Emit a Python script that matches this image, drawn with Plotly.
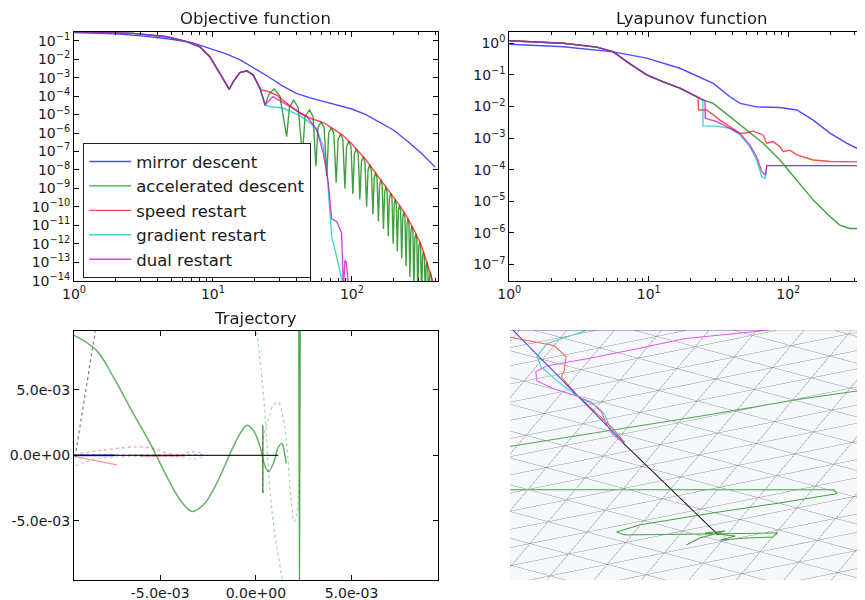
import math
import plotly.graph_objects as go

# ---------------- Objective function data (t, log10 value) ----------------
mirror_t = [1, 2, 3.16, 5.01, 7.08, 10, 12.6, 15.8, 20, 25.1, 31.6, 39.8, 50.1, 63.1, 79.4, 100, 126, 158, 200, 251, 316, 398]
mirror_obj_exp = [-0.55, -0.62, -0.75, -0.92, -1.1, -1.45, -1.72, -2.05, -2.5, -2.95, -3.45, -3.85, -4.1, -4.3, -4.5, -4.7, -5.0, -5.4, -5.85, -6.45, -7.1, -7.85]

common_t = [1, 1.54, 2.67, 4.65, 6.47, 8.05, 9.5, 11.2, 12.5, 13.1, 14.0, 15.6, 17.5, 19.5, 21.8]
common_obj_exp = [-0.51, -0.55, -0.6, -0.78, -1.05, -1.33, -1.87, -2.77, -3.4, -3.63, -3.22, -2.73, -2.63, -2.86, -3.58]

accel_t = [23.7, 25.3, 27.5, 30.3, 33.9, 35.5, 38, 41, 44, 46, 49.5, 52.5, 55, 57, 60, 63, 66, 68, 71, 74, 77,
           79.5, 83, 86, 89, 91.5, 95, 98.5, 101.5, 104, 107.5, 111, 114, 117, 120.5, 124, 127.5,
           130.5, 134, 138, 141.5, 144.5, 148, 151.5, 155, 158, 161.5, 165, 168.5, 172, 175.5, 179, 182.5,
           186, 190, 194, 198, 201.5, 205, 208.5, 212, 216, 220, 224, 228, 232, 236, 240.5, 245,
           249, 253, 257, 261, 265.5, 270, 274.5, 279, 283.5, 288, 293, 298, 302.5, 307, 312, 317,
           322, 327, 332, 337, 341.5, 346, 351, 356, 361.5, 367, 372.5, 378, 384, 390, 396, 402, 408, 414, 420]
accel_obj_exp = [-4.48, -3.9, -3.6, -4.0, -6.2, -4.6, -4.22, -4.6, -7.2, -5.1, -4.75, -5.1, -7.8, -5.7, -5.4, -5.7, -8.3,
                 -6.0, -5.7, -6.0, -8.7, -6.35, -6.05, -6.35, -9.0, -6.75, -6.45, -6.75, -9.3, -7.15, -6.85, -7.15, -9.6,
                 -7.58, -7.28, -7.58, -10.0, -8.02, -7.72, -8.02, -10.4, -8.45, -8.15, -8.45, -10.8, -8.83, -8.53, -8.83, -11.2,
                 -9.2, -8.9, -9.2, -11.6, -9.54, -9.24, -9.54, -12.0, -9.88, -9.58, -9.88, -12.4, -10.21, -9.91, -10.21, -12.8,
                 -10.57, -10.27, -10.57, -13.2, -10.94, -10.64, -10.94, -13.8, -11.33, -11.03, -11.33, -14.5,
                 -11.74, -11.44, -11.74, -15, -12.19, -11.89, -12.19, -15, -12.73, -12.43, -12.73, -15,
                 -13.26, -12.96, -13.26, -15, -13.83, -13.53, -13.83, -15, -14.5, -14.2, -14.5, -15, -15, -14.8, -15]

speed_t = [22.4, 25.1, 28.8, 35.5, 42.7, 50.1, 57.5, 63.1, 74.1, 85.1, 100, 112, 126, 141, 158, 178, 200, 224, 251, 282, 316, 355, 389, 420]
speed_obj_exp = [-3.67, -3.75, -3.95, -4.5, -4.95, -5.2, -5.35, -5.45, -5.8, -6.1, -6.6, -7.0, -7.45, -7.95, -8.45, -8.95, -9.45, -10.0, -10.6, -11.3, -12.1, -13.2, -14.2, -15]

grad_t = [23.7, 25, 32, 42, 50, 56, 62, 66, 68, 70, 71.5, 77, 84, 88]
grad_obj_exp = [-4.48, -4.55, -4.66, -5.05, -5.45, -5.85, -6.7, -8.0, -9.2, -10.6, -11.6, -12.6, -13.7, -14.5]

dual_t = [23.7, 27, 35.8, 47.2, 55.7, 62.2, 67.6, 70.3, 71.4, 77.6, 84.1, 85.5, 86.8, 89, 91, 95]
dual_obj_exp = [-4.48, -4.03, -4.55, -5.1, -5.8, -7.1, -8.7, -10.0, -10.65, -10.8, -11.4, -12.8, -14.5, -12.9, -13.0, -14.5]

# ---------------- Lyapunov function data ----------------
mirror_lt = [1, 2.44, 5.57, 9.66, 16.7, 29.0, 38.2, 45.1, 59.3, 87.1, 115, 151, 200, 262, 347, 420]
mirror_lyap_exp = [-0.03, -0.11, -0.27, -0.47, -0.79, -1.27, -1.69, -1.9, -2.01, -2.03, -2.11, -2.43, -2.85, -3.16, -3.43, -3.6]

common_lt = [1, 2.44, 4.24, 5.57, 7.33, 9.66, 12.7, 16.7, 22.0]
common_lyap_exp = [0.08, 0.0, -0.12, -0.27, -0.65, -1.0, -1.22, -1.42, -1.69]

accel_lt = [24.4, 29.0, 38.2, 50.4, 66.1, 87.1, 115, 151, 200, 234, 275, 347, 420]
accel_lyap_exp = [-1.79, -1.9, -2.32, -2.74, -3.16, -3.69, -4.33, -4.96, -5.49, -5.75, -5.86, -5.86, -5.86]

speed_lt = [22.6, 22.7, 26, 32.4, 38.2, 45.1, 50.4, 56.2, 66.1, 70, 78, 87.1, 92, 102.8, 115, 151, 200, 347, 420]
speed_lyap_exp = [-1.72, -2.11, -2.11, -2.43, -2.64, -2.85, -2.83, -2.78, -2.9, -3.16, -3.11, -3.27, -3.43, -3.38, -3.53, -3.69, -3.74, -3.76, -3.76]

grad_lt = [24.4, 24.5, 30.7, 38.2, 45.1, 53.1, 59.3, 64.6, 68.1, 69.5, 70, 420]
grad_lyap_exp = [-1.79, -2.62, -2.62, -2.69, -2.9, -3.27, -3.69, -4.22, -4.27, -4.1, -3.87, -3.87]

dual_lt = [24.4, 25.3, 25.4, 30.7, 38.2, 45.1, 53.1, 59.3, 64.6, 68.1, 69.5, 70, 420]
dual_lyap_exp = [-1.79, -1.82, -2.37, -2.48, -2.69, -2.85, -3.22, -3.59, -4.06, -4.17, -4.0, -3.87, -3.87]

# ---------------- Trajectory (2D) data ----------------
traj_black_x = [-0.0100, 0.00117]
traj_black_y = [0.0, 0.0]
traj_green_x = [-0.0098, -0.00944, -0.00831, -0.00744, -0.00640, -0.00552, -0.00465, -0.00396, -0.00334, -0.00274,
                -0.00204, -0.00134, -0.00082, -0.00047, -0.00013, 0.00022, 0.00049, 0.00066, 0.00092, 0.00118,
                0.00136, 0.00153, 0.00158]
traj_green_y = [0.0093, 0.00911, 0.00798, 0.00596, 0.00318, 0.00091, -0.00162, -0.00339, -0.00427, -0.00377,
                -0.00212, 0.00015, 0.00167, 0.0023, 0.00192, 0.00065, -0.00086, -0.00124, -0.00061, 0.00065,
                0.00091, -0.0001, -0.00061]
traj_spike1_x = [0.000366, 0.000366]
traj_spike1_y = [0.0023, -0.00286]
traj_spike2_x = [0.00224, 0.00228, 0.00232]
traj_spike2_y = [0.0110, -0.0096, 0.0110]
traj_dashA_x = [0.000016, 0.00033, 0.00054, 0.00069, 0.00096, 0.00143]
traj_dashA_y = [0.00987, 0.0057, 0.00192, -0.00187, -0.00566, -0.00983]
traj_dashB_x = [0.00038, 0.00038, 0.00064, 0.0009, 0.00117, 0.00143, 0.00164, 0.00184, 0.0020, 0.00216, 0.00226]
traj_dashB_y = [-0.00286, 0.00116, 0.00267, 0.00381, 0.00404, 0.00283, 0.0004, -0.00339, -0.00505, -0.0043, -0.00187]
traj_purple_x = [-0.00944, -0.00829]
traj_purple_y = [-0.00013, 0.0104]
traj_red_x = [-0.00944, -0.00726]
traj_red_y = [-0.0001, -0.00073]
traj_red2_x = [-0.00604, -0.00369]
traj_red2_y = [-0.00005, -0.00003]
traj_blue_x = [-0.0095, -0.00735]
traj_blue_y = [0.0, 0.0]
traj_mag_x = [-0.00918, -0.00796, -0.00622, -0.00535, -0.00465, -0.00396, -0.00343, -0.0030, -0.00274]
traj_mag_y = [0.00015, 0.0004, 0.00065, 0.00053, 0.00015, 0.00002, 0.00027, 0.00023, 0.00015]
traj_mag2_x = [-0.00944, -0.00840, -0.00709, -0.00396, -0.00317, -0.00265]
traj_mag2_y = [-0.00081, -0.00030, -0.00011, -0.00013, -0.00028, -0.00005]
traj_cyan_x = [-0.0095, -0.00274]
traj_cyan_y = [0.00005, 0.00004]

# ---------------- 3D panel data (h: across, v: down the plane) ----------------
s3_blue_h = [-1.03, -0.36]
s3_blue_v = [-0.75, -0.07]
s3_top_h = [-1.03, 0.463]
s3_top_v = [-0.694, -0.694]
s3_black_h = [-0.362, 0.171]
s3_black_v = [-0.067, 0.449]
s3_red_h = [-1.053, -1.008, -0.744, -0.677, -0.688, -0.705, -0.621, -0.520, -0.424, -0.351]
s3_red_v = [-0.669, -0.657, -0.607, -0.545, -0.466, -0.433, -0.337, -0.242, -0.152, -0.067]
s3_cyan_h = [-0.463, -0.531, -0.649, -0.784, -0.840, -0.817, -0.728, -0.615, -0.503, -0.463, -0.424, -0.362]
s3_cyan_v = [-0.747, -0.702, -0.663, -0.618, -0.545, -0.489, -0.410, -0.326, -0.264, -0.225, -0.129, -0.067]
s3_mag_h = [0.463, -0.014, -0.278, -0.559, -0.784, -0.846, -0.840, -0.744, -0.621, -0.537, -0.480, -0.452, -0.419, -0.362]
s3_mag_v = [-0.694, -0.646, -0.590, -0.534, -0.494, -0.461, -0.410, -0.365, -0.326, -0.292, -0.236, -0.169, -0.112, -0.067]
s3_green1_h = [-1.025, -0.492, 0.070, 0.632, 1.025]
s3_green1_v = [-0.039, -0.124, -0.213, -0.309, -0.365]
s3_greentop_h = [0.463, 1.05]
s3_greentop_v = [-0.694, -0.694]
s3_green2_h = [-1.025, 0.817, 0.834, 0.520, 0.143, -0.267, -0.396, -0.351, 0.070, 0.503, 0.475, 0.334, 0.183, 0.267, 0.098, 0.211, 0.070, 0.014, -0.008]
s3_green2_v = [0.197, 0.197, 0.219, 0.270, 0.326, 0.393, 0.433, 0.449, 0.444, 0.438, 0.461, 0.466, 0.478, 0.455, 0.438, 0.427, 0.466, 0.494, 0.506]

# ---------------- styles ----------------
C_BLUE = 'rgba(0,0,255,0.7)'
C_GREEN = 'rgba(0,128,0,0.75)'
C_RED = 'rgba(255,0,0,0.7)'
C_CYAN = 'rgba(0,191,191,0.7)'
C_MAG = 'rgba(191,0,191,0.7)'
FONT = 'DejaVu Sans'
TXT = '#1a1a1a'


def pw(exps):
    return [10 ** e for e in exps]


fig = go.Figure()

# Objective
obj_series = [
    ('mirror descent', mirror_t, mirror_obj_exp, C_BLUE),
    ('accelerated descent', common_t + accel_t, common_obj_exp + accel_obj_exp, C_GREEN),
    ('speed restart', common_t + speed_t, common_obj_exp + speed_obj_exp, C_RED),
    ('gradient restart', common_t + grad_t, common_obj_exp + grad_obj_exp, C_CYAN),
    ('dual restart', common_t + dual_t, common_obj_exp + dual_obj_exp, C_MAG),
]
for name, t, e, c in obj_series:
    fig.add_trace(go.Scatter(x=t, y=pw(e), mode='lines', name=name, line=dict(color=c, width=1.4),
                             xaxis='x', yaxis='y', showlegend=True))

# Lyapunov
lyap_series = [
    (mirror_lt, mirror_lyap_exp, C_BLUE),
    (common_lt + accel_lt, common_lyap_exp + accel_lyap_exp, C_GREEN),
    (common_lt + speed_lt, common_lyap_exp + speed_lyap_exp, C_RED),
    (common_lt + grad_lt, common_lyap_exp + grad_lyap_exp, C_CYAN),
    (common_lt + dual_lt, common_lyap_exp + dual_lyap_exp, C_MAG),
]
for t, e, c in lyap_series:
    fig.add_trace(go.Scatter(x=t, y=pw(e), mode='lines', line=dict(color=c, width=1.4),
                             xaxis='x2', yaxis='y2', showlegend=False))

# Trajectory
traj = [
    (traj_dashA_x, traj_dashA_y, 'rgba(0,128,0,0.35)', 'dot', 1.2, 'spline'),
    (traj_dashB_x, traj_dashB_y, 'rgba(0,128,0,0.35)', 'dot', 1.2, 'spline'),
    (traj_purple_x, traj_purple_y, 'rgba(90,50,110,0.7)', 'dot', 1.2, 'linear'),
    (traj_cyan_x, traj_cyan_y, 'rgba(0,191,191,0.5)', 'dot', 1.5, 'linear'),
    (traj_mag_x, traj_mag_y, 'rgba(230,80,230,0.5)', 'dot', 1.5, 'spline'),
    (traj_mag2_x, traj_mag2_y, 'rgba(230,80,230,0.4)', 'dot', 1.2, 'spline'),
    (traj_red_x, traj_red_y, 'rgba(255,60,60,0.55)', 'solid', 1.3, 'linear'),
    (traj_red2_x, traj_red2_y, 'rgba(255,60,60,0.6)', 'solid', 1.3, 'linear'),
    (traj_blue_x, traj_blue_y, 'rgba(0,0,255,0.75)', 'solid', 1.6, 'linear'),
    (traj_green_x, traj_green_y, 'rgba(0,128,0,0.6)', 'solid', 1.5, 'spline'),
    (traj_spike1_x, traj_spike1_y, 'rgba(0,110,0,0.8)', 'solid', 1.3, 'linear'),
    (traj_spike2_x, traj_spike2_y, 'rgba(0,128,0,0.7)', 'solid', 1.3, 'linear'),
    (traj_black_x, traj_black_y, 'rgba(0,0,0,0.85)', 'solid', 1.3, 'linear'),
]
for x, y, c, d, w, shp in traj:
    fig.add_trace(go.Scatter(x=x, y=y, mode='lines', line=dict(color=c, width=w, dash=d, shape=shp),
                             xaxis='x3', yaxis='y3', showlegend=False))

# ---------------- 3D panel ----------------
SIN_EL = 0.565
EL = math.asin(SIN_EL)
PSI = math.radians(-25.4)
E1 = (math.cos(PSI), math.sin(PSI))
E2 = (-math.sin(PSI), math.cos(PSI))
L = 0.239
R = 1.6
OFF = (0.0, 0.065)
ASP = 4.59
EYE_D = 3.0


def clip_line(p, d):
    tmin, tmax = -1e9, 1e9
    for i in range(2):
        if abs(d[i]) < 1e-12:
            if abs(p[i]) > R:
                return None
        else:
            t1 = (-R - p[i]) / d[i]
            t2 = (R - p[i]) / d[i]
            tmin = max(tmin, min(t1, t2))
            tmax = min(tmax, max(t1, t2))
    if tmin >= tmax:
        return None
    return (p[0] + tmin * d[0], p[1] + tmin * d[1]), (p[0] + tmax * d[0], p[1] + tmax * d[1])


gx, gy, gz = [], [], []
dC = (E1[0] - E2[0], E1[1] - E2[1])
for k in range(-25, 26):
    for base, dvec in (((OFF[0] + k * L * E2[0], OFF[1] + k * L * E2[1]), E1),
                       ((OFF[0] + k * L * E1[0], OFF[1] + k * L * E1[1]), E2),
                       ((OFF[0] + k * L * E2[0], OFF[1] + k * L * E2[1]), dC)):
        seg = clip_line(base, dvec)
        if seg:
            gx += [seg[0][0], seg[1][0], None]
            gy += [seg[0][1], seg[1][1], None]
            gz += [0, 0, None]

fig.add_trace(go.Scatter3d(x=gx, y=gy, z=gz, mode='lines', line=dict(color='rgba(105,105,105,0.8)', width=1),
                           scene='scene', showlegend=False, hoverinfo='skip'))

s3 = [
    (s3_green1_h, s3_green1_v, 'rgb(80,165,80)', 2),
    (s3_greentop_h, s3_greentop_v, 'rgb(170,215,170)', 2),
    (s3_green2_h, s3_green2_v, 'rgb(70,160,70)', 2),
    (s3_top_h, s3_top_v, 'rgb(125,85,175)', 2),
    (s3_mag_h, s3_mag_v, 'rgb(225,90,225)', 2),
    (s3_cyan_h, s3_cyan_v, 'rgb(60,200,200)', 2),
    (s3_red_h, s3_red_v, 'rgb(255,90,70)', 2),
    (s3_blue_h, s3_blue_v, 'rgb(60,60,240)', 2),
    (s3_black_h, s3_black_v, 'rgb(20,20,20)', 2),
]
for h, v, c, w in s3:
    fig.add_trace(go.Scatter3d(x=[vv / SIN_EL for vv in v], y=h, z=[0.004] * len(h), mode='lines',
                               line=dict(color=c, width=w), scene='scene', showlegend=False, hoverinfo='skip'))

# ---------------- layout ----------------
PAGE_OFF = 8  # the page body offsets the figure by this many pixels
W, H = 865 - PAGE_OFF, 600 - PAGE_OFF


def fx(px):
    return (px - PAGE_OFF) / W


def fy(py):
    return 1 - (py - PAGE_OFF) / H


tick_font = dict(family=FONT, size=14, color=TXT)
log_minor = [m * 10 ** p for p in range(0, 3) for m in range(2, 10)]

common_axis = dict(showgrid=False, zeroline=False, showline=True, linecolor='black', linewidth=1,
                   ticks='inside', ticklen=5, tickcolor='black', mirror='ticks', tickfont=tick_font,
                   automargin=False)

fig.update_layout(
    width=W, height=H, margin=dict(l=0, r=0, t=0, b=0, pad=0, autoexpand=False),
    paper_bgcolor='white', plot_bgcolor='white',
    font=dict(family=FONT, color=TXT),
    xaxis=dict(common_axis, type='log', domain=[fx(74), fx(437.7)], range=[0, 2.617], anchor='y',
               tickmode='array', tickvals=[1, 10, 100],
               ticktext=['10<sup>0</sup>', '10<sup>1</sup>', '10<sup>2</sup>'],
               minor=dict(tickmode='array', tickvals=log_minor, ticks='inside', ticklen=3, tickcolor='black')),
    yaxis=dict(common_axis, type='log', domain=[fy(281), fy(31.7)], range=[-14.02, -0.51], anchor='x',
               tickmode='array', tickvals=[10 ** (-k) for k in range(1, 15)],
               ticktext=['10<sup>\u2212%d</sup>' % k for k in range(1, 15)]),
    xaxis2=dict(common_axis, type='log', domain=[fx(509.3), 1.0], range=[0, 2.55], anchor='y2',
                tickmode='array', tickvals=[1, 10, 100],
                ticktext=['10<sup>0</sup>', '10<sup>1</sup>', '10<sup>2</sup>'],
                minor=dict(tickmode='array', tickvals=log_minor, ticks='inside', ticklen=3, tickcolor='black')),
    yaxis2=dict(common_axis, type='log', domain=[fy(281), fy(31.7)], range=[-7.52, 0.367], anchor='x2',
                mirror=False, tickmode='array', tickvals=[10 ** (-k) for k in range(0, 8)],
                ticktext=['10<sup>0</sup>'] + ['10<sup>\u2212%d</sup>' % k for k in range(1, 8)]),
    xaxis3=dict(common_axis, domain=[fx(74), fx(437.7)], range=[-0.0095, 0.0095], anchor='y3',
                tickmode='array', tickvals=[-0.005, 0, 0.005], ticktext=['-5.0e-03', '0.0e+00', '5.0e-03']),
    yaxis3=dict(common_axis, domain=[fy(580), fy(330.7)], range=[-0.0095, 0.0095], anchor='x3',
                tickmode='array', tickvals=[-0.005, 0, 0.005], ticktext=['-5.0e-03', '0.0e+00', '5.0e-03']),
    scene=dict(
        domain=dict(x=[fx(510), 1.0], y=[fy(580), fy(330)]),
        bgcolor='rgb(245,247,250)',
        xaxis=dict(visible=False, range=[-R, R]),
        yaxis=dict(visible=False, range=[-R, R]),
        zaxis=dict(visible=False, range=[-R, R]),
        aspectmode='manual', aspectratio=dict(x=ASP, y=ASP, z=ASP),
        camera=dict(eye=dict(x=EYE_D * math.cos(EL), y=0, z=EYE_D * SIN_EL),
                    center=dict(x=0, y=0, z=0), up=dict(x=0, y=0, z=1),
                    projection=dict(type='orthographic')),
    ),
    legend=dict(x=fx(83), y=fy(143), xanchor='left', yanchor='top', bgcolor='white', itemwidth=42,
                bordercolor='#222', borderwidth=1.2, font=dict(family=FONT, size=16.5, color=TXT)),
    showlegend=True,
)

title_font = dict(family=FONT, size=16.5, color=TXT)
for text, cx, cy in (('Objective function', 255.8, 19), ('Lyapunov function', 691.5, 19), ('Trajectory', 255.8, 318.5)):
    fig.add_annotation(text=text, x=fx(cx), y=fy(cy), xref='paper', yref='paper', showarrow=False,
                       xanchor='center', yanchor='middle', font=title_font)

fig.write_html('out.html')
